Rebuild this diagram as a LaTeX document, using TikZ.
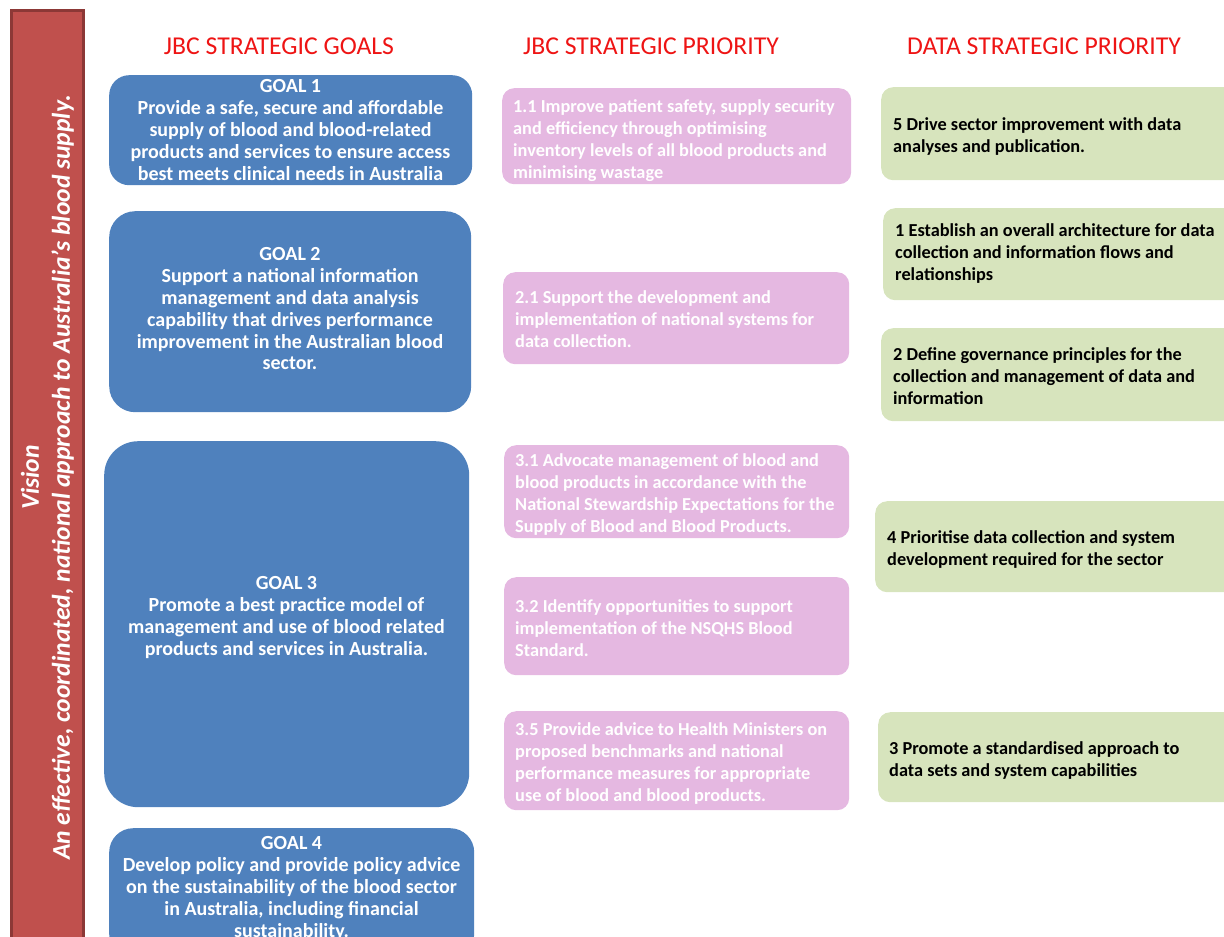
\documentclass[tikz,border=0pt]{standalone}
\usepackage{fontspec}
\setmainfont{Carlito}
\usepackage{tikz}
\usetikzlibrary{positioning}
\definecolor{goalblue}{RGB}{79,129,189}
\definecolor{prioPink}{RGB}{229,184,225}
\definecolor{dataGreen}{RGB}{215,228,189}
\definecolor{visionRed}{RGB}{192,80,77}
\definecolor{visionEdge}{RGB}{140,56,54}
\definecolor{headRed}{RGB}{238,20,20}
\tikzstyle{goal}     = [rectangle, fill=goalblue, inner sep=0pt, anchor=north west]
\tikzstyle{jbcprio}  = [rectangle, rounded corners=12pt, fill=prioPink, inner sep=0pt, anchor=north west]
\tikzstyle{dataprio} = [rectangle, rounded corners=12pt, fill=dataGreen, inner sep=0pt, anchor=north west]
\tikzstyle{goaltext} = [text=white, font=\bfseries\fontsize{20}{21.8}\selectfont, align=center, anchor=north, inner sep=0pt]
\tikzstyle{priotext} = [text=white, font=\bfseries\fontsize{18.3}{22}\selectfont, align=left, anchor=north west, inner sep=0pt]
\tikzstyle{datatext} = [text=black, font=\bfseries\fontsize{18.3}{22}\selectfont, align=left, anchor=north west, inner sep=0pt]
\tikzstyle{heading}  = [text=headRed, font=\fontsize{25.7}{30}\selectfont, inner sep=0pt]

\begin{document}
\begin{tikzpicture}[x=1pt, y=-1pt]
    \useasboundingbox (0,0) rectangle (1224,937);
    \clip (0,0) rectangle (1224,937);

    % vision bar down the left side
    \node (vis) [rectangle, rotate=90, fill=visionRed, draw=visionEdge, line width=3pt,
                 minimum width=935pt, minimum height=72pt, inner sep=0pt, text=white,
                 align=center, font=\bfseries\itshape\fontsize{25.6}{31}\selectfont]
                 at (47.5,477.5)
                 {Vision\\An effective, coordinated, national approach to Australia’s blood supply.};

    % column headings
    \node (hgoal) [heading] at (279,46)  {JBC STRATEGIC GOALS};
    \node (hjbc)  [heading] at (651,46)  {JBC STRATEGIC PRIORITY};
    \node (hdata) [heading] at (1044,46) {DATA STRATEGIC PRIORITY};

    % goals
    \node (g1) [goal, rounded corners=20pt, minimum width=363pt, minimum height=110pt] at (109,75)  {};
    \node (g2) [goal, rounded corners=26pt, minimum width=362pt, minimum height=201pt] at (109,211) {};
    \node (g3) [goal, rounded corners=34pt, minimum width=365pt, minimum height=366pt] at (104,441) {};
    \node (g4) [goal, rounded corners=24pt, minimum width=365pt, minimum height=130pt] at (109,828) {};

    \node (g1txt) [goaltext] at (290.5,79.5) {GOAL 1\\Provide a safe, secure and affordable\\supply of blood and blood-related\\products and services to ensure access\\best meets clinical needs in Australia};
    \node (g2txt) [goaltext] at (290,247.5)  {GOAL 2\\Support a national information\\management and data analysis\\capability that drives performance\\improvement in the Australian blood\\sector.};
    \node (g3txt) [goaltext] at (286.5,576.5) {GOAL 3\\Promote a best practice model of\\management and use of blood related\\products and services in Australia.};
    \node (g4txt) [goaltext] at (291.5,836.5) {GOAL 4\\Develop policy and provide policy advice\\on the sustainability of the blood sector\\in Australia, including financial\\sustainability.};

    % JBC priorities
    \node (p11) [jbcprio, minimum width=349pt, minimum height=96pt] at (502,88)  {};
    \node (p21) [jbcprio, minimum width=346pt, minimum height=92pt] at (503,272) {};
    \node (p31) [jbcprio, minimum width=345pt, minimum height=93pt] at (504,445) {};
    \node (p32) [jbcprio, minimum width=345pt, minimum height=98pt] at (504,577) {};
    \node (p35) [jbcprio, minimum width=345pt, minimum height=99pt] at (504,711) {};

    \node (p11txt) [priotext] at (513,99)  {1.1 Improve patient safety, supply security\\and efficiency through optimising\\inventory levels of all blood products and\\minimising wastage};
    \node (p21txt) [priotext] at (515,290) {2.1 Support the development and\\implementation of national systems for\\data collection.};
    \node (p31txt) [priotext] at (515,453) {3.1 Advocate management of blood and\\blood products in accordance with the\\National Stewardship Expectations for the\\Supply of Blood and Blood Products.};
    \node (p32txt) [priotext] at (515,599) {3.2 Identify opportunities to support\\implementation of the NSQHS Blood\\Standard.};
    \node (p35txt) [priotext] at (515,722) {3.5 Provide advice to Health Ministers on\\proposed benchmarks and national\\performance measures for appropriate\\use of blood and blood products.};

    % data priorities
    \node (d5) [dataprio, minimum width=360pt, minimum height=93pt] at (881,87)  {};
    \node (d1) [dataprio, minimum width=360pt, minimum height=92pt] at (883,208) {};
    \node (d2) [dataprio, minimum width=360pt, minimum height=93pt] at (881,328) {};
    \node (d4) [dataprio, minimum width=370pt, minimum height=91pt] at (875,501) {};
    \node (d3) [dataprio, minimum width=370pt, minimum height=90pt] at (878,712) {};

    \node (d5txt) [datatext] at (893,117) {5 Drive sector improvement with data\\analyses and publication.};
    \node (d1txt) [datatext] at (895,223) {1 Establish an overall architecture for data\\collection and information flows and\\relationships};
    \node (d2txt) [datatext] at (893,347) {2 Define governance principles for the\\collection and management of data and\\information};
    \node (d4txt) [datatext] at (887,530) {4 Prioritise data collection and system\\development required for the sector};
    \node (d3txt) [datatext] at (889,741) {3 Promote a standardised approach to\\data sets and system capabilities};
\end{tikzpicture}
\end{document}
